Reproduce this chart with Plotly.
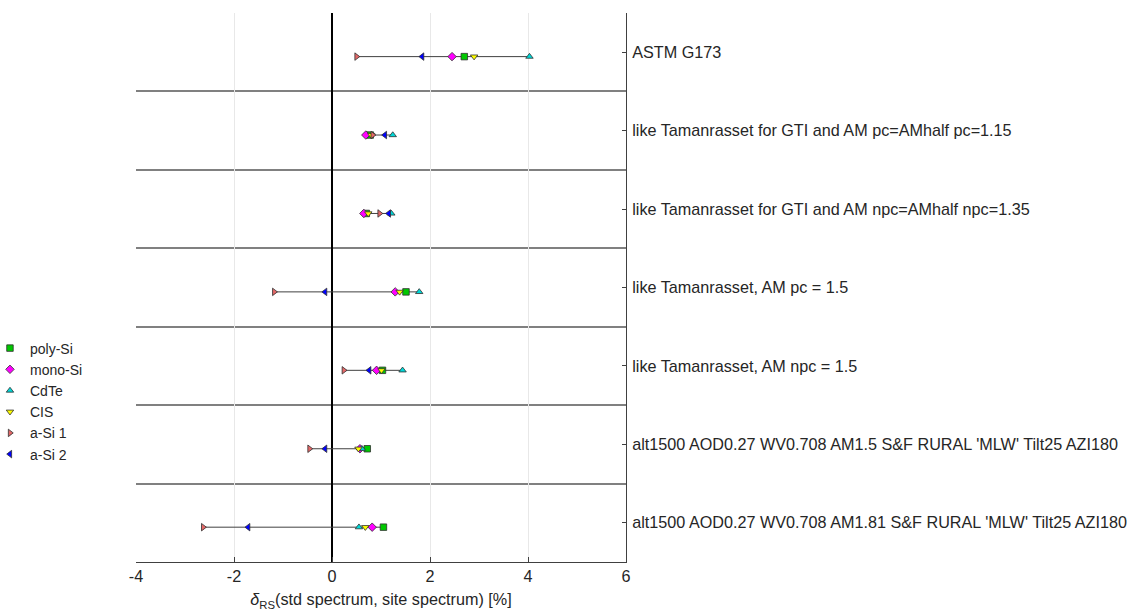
import plotly.graph_objects as go

# Spectral scenarios (top to bottom)
scenarios = [
    "ASTM G173",
    "like Tamanrasset for GTI and AM pc=AMhalf pc=1.15",
    "like Tamanrasset for GTI and AM npc=AMhalf npc=1.35",
    "like Tamanrasset, AM pc = 1.5",
    "like Tamanrasset, AM npc = 1.5",
    "alt1500 AOD0.27 WV0.708 AM1.5 S&F RURAL 'MLW' Tilt25 AZI180",
    "alt1500 AOD0.27 WV0.708 AM1.81 S&F RURAL 'MLW' Tilt25 AZI180",
]

# delta_RS per technology [%], one value per scenario
poly_si = [2.70, 0.78, 0.70, 1.51, 1.03, 0.72, 1.05]
mono_si = [2.45, 0.69, 0.65, 1.29, 0.91, 0.57, 0.82]
cdte    = [4.03, 1.24, 1.21, 1.78, 1.44, 0.61, 0.55]
cis     = [2.90, 0.80, 0.74, 1.38, 1.01, 0.54, 0.68]
a_si_1  = [0.50, 0.83, 0.97, -1.18, 0.24, -0.46, -2.63]
a_si_2  = [1.84, 1.08, 1.16, -0.14, 0.76, -0.14, -1.71]

x_ticks = [-4, -2, 0, 2, 4, 6]
x_tick_text = ["-4", "-2", "0", "2", "4", "6"]

series = [
    ("poly-Si", poly_si, "square", "#00c800"),
    ("mono-Si", mono_si, "diamond", "#ff00ff"),
    ("CdTe", cdte, "triangle-up", "#00d8d8"),
    ("CIS", cis, "triangle-down", "#ffff00"),
    ("a-Si 1", a_si_1, "triangle-right", "#e46868"),
    ("a-Si 2", a_si_2, "triangle-left", "#0000ff"),
]

TEXT = "#262626"
FONT = "Liberation Sans, Arial, sans-serif"
FS = 16.2
ROW_SHIFT = 0.056  # marks sit slightly below each category tick

rows = [i + ROW_SHIFT for i in range(len(scenarios))]

fig = go.Figure()

# range line for each scenario, spanning min..max of all technologies
for i, yr in enumerate(rows):
    vals = [s[1][i] for s in series]
    fig.add_trace(go.Scatter(
        x=[min(vals), max(vals)], y=[yr, yr], mode="lines",
        line=dict(color="#404040", width=1), showlegend=False, hoverinfo="skip",
    ))

for name, vals, symbol, color in series:
    fig.add_trace(go.Scatter(
        x=vals, y=rows, mode="markers", name=name,
        marker=dict(symbol=symbol, size=6.5, color=color,
                    line=dict(color="#303030", width=0.8)),
    ))

fig.update_layout(
    width=1131, height=612,
    margin=dict(l=136, r=505, t=13, b=50, autoexpand=False),
    paper_bgcolor="white", plot_bgcolor="white",
    font=dict(family=FONT, size=FS, color=TEXT),
    legend=dict(
        x=-0.298, y=0.418, xanchor="left", yanchor="top",
        font=dict(size=14, color=TEXT), bgcolor="rgba(0,0,0,0)",
        tracegroupgap=0, itemwidth=30,
    ),
    xaxis=dict(
        range=[-4, 6], tickvals=x_ticks, ticktext=x_tick_text,
        showgrid=True, gridcolor="#e8e8e8", gridwidth=1,
        zeroline=True, zerolinecolor="black", zerolinewidth=2,
        showline=True, linecolor="#404040", linewidth=1,
        ticks="inside", ticklen=5, tickcolor="#404040",
        tickfont=dict(size=FS, color=TEXT),
        title=dict(text="<i>δ</i><sub>RS</sub>(std spectrum, site spectrum) [%]",
                   font=dict(size=FS, color=TEXT), standoff=9),
        automargin=False,
    ),
    yaxis=dict(
        range=[len(scenarios) - 0.5, -0.5],
        side="right",
        tickvals=list(range(len(scenarios))), ticktext=scenarios,
        showgrid=False, zeroline=False,
        showline=True, linecolor="#404040", linewidth=1,
        ticks="inside", ticklen=4, tickcolor="#404040",
        tickfont=dict(size=FS, color=TEXT),
        ticklabelstandoff=2,
        minor=dict(tickvals=[k + 0.5 for k in range(len(scenarios) - 1)],
                   showgrid=True, gridcolor="#808080", gridwidth=1.5, ticks=""),
        automargin=False,
    ),
)

fig.write_html("out.html")
